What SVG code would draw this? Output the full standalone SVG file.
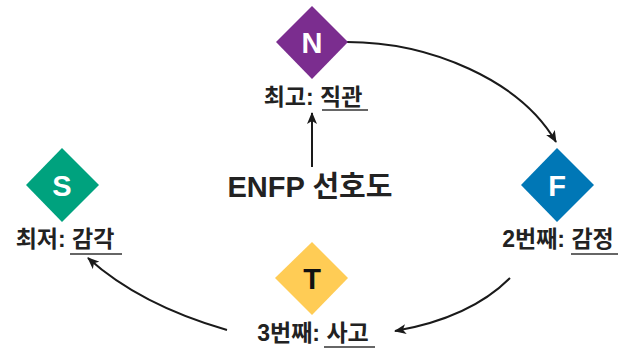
<svg xmlns="http://www.w3.org/2000/svg" width="620" height="350" viewBox="0 0 620 350">
<defs>
<marker id="ah" viewBox="0 0 12 10" refX="11" refY="5" markerWidth="12" markerHeight="10" markerUnits="userSpaceOnUse" orient="auto">
<path d="M0,0 L12,5 L0,10 L3,5 z" fill="#1a1a1a"/>
</marker>
<style>
.lbl{font-family:"Liberation Sans","Noto Sans CJK KR",sans-serif;font-size:23px;font-weight:bold;fill:#222;text-anchor:middle}
.ul{stroke:#333;stroke-width:1.6}
.let{font-family:"Liberation Sans","Noto Sans CJK KR",sans-serif;font-size:29px;font-weight:bold;text-anchor:middle}
.con{fill:none;stroke:#1a1a1a;stroke-width:2;marker-end:url(#ah)}
</style>
</defs>
<rect width="620" height="350" fill="#fff"/>
<g id="connectors">
<path class="con" d="M347,42 C430,42 520,80 556,142"/>
<path class="con" d="M510,278 Q470,318 395,331"/>
<path class="con" d="M227,330 Q140,305 88,258"/>
<path class="con" d="M312,167 L312,113"/>
</g>
<g id="center">
<text x="310" y="197" font-family="Liberation Sans,'Noto Sans CJK KR',sans-serif" font-size="29" font-weight="bold" fill="#222" text-anchor="middle">ENFP 선호도</text>
</g>
<g id="node-N">
<polygon points="312,6 348,42 312,79 276,42" fill="#7b2d8f"/>
<text class="let" x="312" y="53" fill="#fff">N</text>
<text class="lbl" x="313" y="105">최고: 직관</text>
<line class="ul" x1="322" y1="110" x2="368" y2="110"/>
</g>
<g id="node-F">
<polygon points="557,148 594,185 557,222 521,185" fill="#0077b6"/>
<text class="let" x="557" y="196" fill="#fff">F</text>
<text class="lbl" x="558" y="247">2번째: 감정</text>
<line class="ul" x1="571" y1="254" x2="618" y2="254"/>
</g>
<g id="node-S">
<polygon points="62,148 99,185 62,222 26,185" fill="#00a27e"/>
<text class="let" x="62" y="196" fill="#fff">S</text>
<text class="lbl" x="65" y="247">최저: 감각</text>
<line class="ul" x1="70" y1="254" x2="122" y2="254"/>
</g>
<g id="node-T">
<polygon points="312,242 348,278 312,315 275,278" fill="#ffcc55"/>
<text class="let" x="312" y="289" fill="#111">T</text>
<text class="lbl" x="313" y="341">3번째: 사고</text>
<line class="ul" x1="324" y1="347" x2="375" y2="347"/>
</g>
</svg>
